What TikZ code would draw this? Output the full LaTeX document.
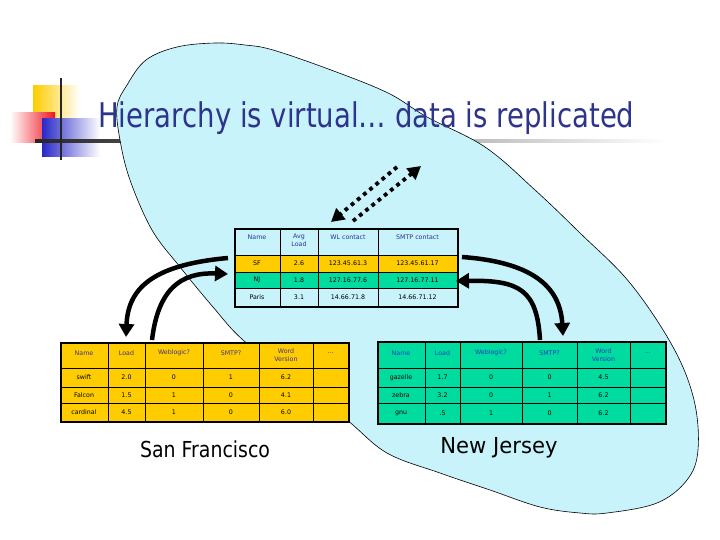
\documentclass[tikz,border=0pt]{standalone}
\usepackage{fontspec}
\setmainfont{DejaVu Sans}
\usetikzlibrary{arrows.meta}
\definecolor{ellcyan}{RGB}{200,243,251}
\definecolor{gold}{RGB}{255,204,0}
\definecolor{sea}{RGB}{0,220,160}
\definecolor{titleblue}{RGB}{46,52,140}
\definecolor{hdrblue}{RGB}{40,50,150}
\definecolor{hdrpurple}{RGB}{60,50,140}
\definecolor{hdrblue2}{RGB}{30,60,190}
\definecolor{logoyellow}{RGB}{255,204,0}
\definecolor{logored}{RGB}{240,20,30}
\definecolor{logoblue}{RGB}{40,40,200}
\begin{document}
\begin{tikzpicture}[x=1pt,y=-1pt,
  cell/.style={font=\fontsize{6.3}{7.5}\selectfont, inner sep=0pt, align=center, text=black},
  hdrA/.style={cell, text=hdrblue},
  hdrB/.style={cell, text=hdrpurple},
  hdrC/.style={cell, text=hdrblue2},
  bigarrow/.style={line width=4.5pt, -{Triangle[length=13pt,width=15pt]}},
  dotarrow/.style={line width=3.8pt, dash pattern=on 3.8pt off 4.2pt, -{Triangle[length=13pt,width=14pt]}},
  gridline/.style={line width=0.7pt},
  tframe/.style={draw, line width=1.6pt, inner sep=0pt, anchor=north west},
  place/.style={font=\fontsize{22}{26}\selectfont, inner sep=0pt, anchor=base, text=black}
]
\useasboundingbox (0,0) rectangle (720,540);
% logo
\shade[left color=logoyellow, middle color=logoyellow, right color=white] (33,86) rectangle (80,120);
\shade[left color=white, right color=logored] (10,113) rectangle (55,143);
\shade[left color=logoblue, middle color=logoblue!75, right color=white] (42,119) rectangle (100,157);
\shade[left color=black!85, right color=white] (35,140) rectangle (665,142.3);
\fill[black!85] (60,78) rectangle (62.4,160);
% cyan region
\filldraw[fill=ellcyan, draw=black, line width=0.6pt] plot[smooth cycle, tension=0.6] coordinates {
 (117,107) (127,85) (146,60) (177,47) (215,43) (245,45) (273,50) (331,70) (388,93) (427,117)
 (485,147) (535,190) (580,233) (630,283) (673,347) (694,400) (698,450) (687,480) (657,503)
 (607,513) (580,513) (540,507) (490,490) (440,473) (387,453) (347,420) (295,380) (243,340)
 (213,307) (180,267) (152,230) (130,180) (120,140)};
% title
\node[anchor=base west, text=titleblue, inner sep=0pt] (title) at (98,128)
  {\scalebox{0.81}[1]{\fontsize{34}{40}\selectfont Hierarchy is virtual… data is replicated}};
% ---------- top table ----------
\fill[ellcyan] (234,228) rectangle (457,255);
\fill[gold] (234,255) rectangle (457,272);
\fill[sea] (234,272) rectangle (457,288);
\fill[ellcyan] (234,288) rectangle (457,306);
\draw[gridline] (280,228) -- (280,306) (318,228) -- (318,306) (378,228) -- (378,306)
  (234,255) -- (457,255) (234,272) -- (457,272) (234,288) -- (457,288);
\node[tframe, minimum width=223pt, minimum height=78pt] (toptable) at (234,228) {};
\node[hdrA] (th1) at (257,237) {Name};
\node[hdrA] (th2) at (299,240) {Avg\\Load};
\node[hdrA] (th3) at (348,237) {WL contact};
\node[hdrA] (th4) at (417.5,237) {SMTP contact};
\node[cell] (ta1) at (257,263.5) {SF};
\node[cell] (ta2) at (299,263.5) {2.6};
\node[cell] (ta3) at (348,263.5) {123.45.61.3};
\node[cell] (ta4) at (417.5,263.5) {123.45.61.17};
\node[cell] (tb1) at (257,280) {NJ};
\node[cell] (tb2) at (299,280) {1.8};
\node[cell] (tb3) at (348,280) {127.16.77.6};
\node[cell] (tb4) at (417.5,280) {127.16.77.11};
\node[cell] (tc1) at (257,297) {Paris};
\node[cell] (tc2) at (299,297) {3.1};
\node[cell] (tc3) at (348,297) {14.66.71.8};
\node[cell] (tc4) at (417.5,297) {14.66.71.12};
% ---------- left table ----------
\fill[gold] (60,342) rectangle (348,421);
\draw[gridline] (108,342) -- (108,421) (145,342) -- (145,421) (203,342) -- (203,421)
  (259,342) -- (259,421) (313,342) -- (313,421)
  (60,368) -- (348,368) (60,387) -- (348,387) (60,403) -- (348,403);
\node[tframe, minimum width=288pt, minimum height=79pt] (sftable) at (60,342) {};
\node[hdrB] (lh1) at (84,353) {Name};
\node[hdrB] (lh2) at (126.5,353) {Load};
\node[hdrB] (lh3) at (174,353) {Weblogic?};
\node[hdrB] (lh4) at (231,353) {SMTP?};
\node[hdrB] (lh5) at (286,355) {Word\\Version};
\node[hdrB] (lh6) at (330.5,353) {…};
\node[cell] (la1) at (84,377.5) {swift};
\node[cell] (la2) at (126.5,377.5) {2.0};
\node[cell] (la3) at (174,377.5) {0};
\node[cell] (la4) at (231,377.5) {1};
\node[cell] (la5) at (286,377.5) {6.2};
\node[cell] (lb1) at (84,395) {Falcon};
\node[cell] (lb2) at (126.5,395) {1.5};
\node[cell] (lb3) at (174,395) {1};
\node[cell] (lb4) at (231,395) {0};
\node[cell] (lb5) at (286,395) {4.1};
\node[cell] (lc1) at (84,412) {cardinal};
\node[cell] (lc2) at (126.5,412) {4.5};
\node[cell] (lc3) at (174,412) {1};
\node[cell] (lc4) at (231,412) {0};
\node[cell] (lc5) at (286,412) {6.0};
% ---------- right table ----------
\fill[sea] (377,341) rectangle (665,423);
\draw[gridline] (425,341) -- (425,423) (460,341) -- (460,423) (522,341) -- (522,423)
  (577,341) -- (577,423) (630,341) -- (630,423)
  (377,368) -- (665,368) (377,387) -- (665,387) (377,403) -- (665,403);
\node[tframe, minimum width=288pt, minimum height=82pt] (njtable) at (377,341) {};
\node[hdrC] (rh1) at (401,353) {Name};
\node[hdrC] (rh2) at (442.5,353) {Load};
\node[hdrC] (rh3) at (491,353) {Weblogic?};
\node[hdrC] (rh4) at (549.5,353) {SMTP?};
\node[hdrC] (rh5) at (603.5,355) {Word\\Version};
\node[hdrC] (rh6) at (647.5,353) {…};
\node[cell] (ra1) at (401,377.5) {gazelle};
\node[cell] (ra2) at (442.5,377.5) {1.7};
\node[cell] (ra3) at (491,377.5) {0};
\node[cell] (ra4) at (549.5,377.5) {0};
\node[cell] (ra5) at (603.5,377.5) {4.5};
\node[cell] (rb1) at (401,395) {zebra};
\node[cell] (rb2) at (442.5,395) {3.2};
\node[cell] (rb3) at (491,395) {0};
\node[cell] (rb4) at (549.5,395) {1};
\node[cell] (rb5) at (603.5,395) {6.2};
\node[cell] (rc1) at (401,413) {gnu};
\node[cell] (rc2) at (442.5,413) {.5};
\node[cell] (rc3) at (491,413) {1};
\node[cell] (rc4) at (549.5,413) {0};
\node[cell] (rc5) at (603.5,413) {6.2};
% place labels
\node[place] (sflabel) at (205,457) {\scalebox{0.86}[1]{San Francisco}};
\node[place] (njlabel) at (499,453) {\scalebox{0.96}[1]{New Jersey}};
% arrow end points
\coordinate (a1s) at (228,258);
\coordinate (a1e) at (126,337);
\coordinate (a2s) at (152,340);
\coordinate (a2e) at (228,274);
\coordinate (a3s) at (462,257);
\coordinate (a3e) at (563,336);
\coordinate (a4s) at (540,340);
\coordinate (a4e) at (456,281);
\coordinate (d1s) at (397,167);
\coordinate (d1e) at (331,222);
\coordinate (d2s) at (353,221);
\coordinate (d2e) at (421,166);
\draw[bigarrow] (a1s) .. controls (150,265) and (128,290) .. (a1e);
\draw[bigarrow] (a2s) .. controls (158,290) and (180,272) .. (a2e);
\draw[bigarrow] (a3s) .. controls (530,262) and (560,285) .. (a3e);
\draw[bigarrow] (a4s) .. controls (537,290) and (520,280) .. (a4e);
\draw[dotarrow] (d1s) -- (d1e);
\draw[dotarrow] (d2s) -- (d2e);
\end{tikzpicture}
\end{document}
